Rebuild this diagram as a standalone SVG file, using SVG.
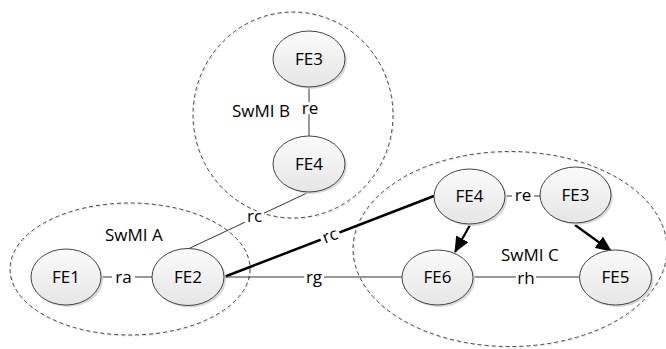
<svg xmlns="http://www.w3.org/2000/svg" width="666" height="349" viewBox="0 0 666 349">
<defs>
<linearGradient id="g" x1="0" y1="0" x2="0" y2="1">
<stop offset="0" stop-color="#fbfbfb"/>
<stop offset="1" stop-color="#e6e6e6"/>
</linearGradient>
<marker id="ah" viewBox="0 0 16 14" refX="15" refY="7" markerWidth="16" markerHeight="14" orient="auto" markerUnits="userSpaceOnUse">
<path d="M0,0 L16,7 L0,14 Z" fill="#000"/>
</marker>
</defs>
<style>
.grp{fill:none;stroke:#444;stroke-width:1;stroke-dasharray:4,3}
.grps{fill:none;stroke:#ddd;stroke-width:1;stroke-dasharray:4,3}
.nd{fill:url(#g);stroke:#444;stroke-width:1}
.sh{fill:#d8d8d8}
.t{font-family:"Open Sans","DejaVu Sans",sans-serif;font-size:17px;fill:#000;text-anchor:middle;dominant-baseline:central}
.gl{font-family:"Open Sans","DejaVu Sans",sans-serif;font-size:17px;fill:#000}
.ln{stroke:#333;stroke-width:1;fill:none}
.th{stroke:#000;stroke-width:2.5;fill:none}
.ar{stroke:#000;stroke-width:2.2;fill:none}
.bg{fill:#fff}
</style>
<rect width="666" height="349" fill="#fff"/>
<g id="swmi-b">
<ellipse class="grps" cx="294" cy="116" rx="100" ry="103"/>
<ellipse class="grp" cx="293" cy="115" rx="100" ry="103"/>
<text class="gl" x="232" y="117">SwMI B</text>
</g>
<g id="swmi-a">
<ellipse class="grps" cx="131" cy="270" rx="120" ry="66"/>
<ellipse class="grp" cx="130" cy="269" rx="120" ry="66"/>
<text class="gl" x="105" y="241">SwMI A</text>
</g>
<g id="swmi-c">
<ellipse class="grps" cx="511" cy="250" rx="157" ry="97.5"/>
<ellipse class="grp" cx="510" cy="249" rx="157" ry="97.5"/>
<text class="gl" x="501" y="261">SwMI C</text>
</g>
<g id="connectors">
<line class="ln" x1="309" y1="87" x2="309" y2="136"/>
<rect class="bg" x="300" y="102" width="20" height="12"/>
<text class="t" x="310" y="107">re</text>
<line class="ln" x1="101" y1="277" x2="152" y2="277"/>
<rect class="bg" x="112" y="271" width="23" height="12"/>
<text class="t" x="123.5" y="276">ra</text>
<line class="ln" x1="188" y1="249" x2="307" y2="193"/>
<rect class="bg" x="245" y="211" width="19" height="12"/>
<text class="t" x="254.5" y="215">rc</text>
<line class="th" x1="224" y1="277" x2="434" y2="196"/>
<g transform="translate(330,236) rotate(-21)">
<rect class="bg" x="-10" y="-6" width="20" height="12"/>
<text class="t" x="0" y="-1">rc</text>
</g>
<line class="ln" x1="224" y1="277" x2="402" y2="277"/>
<rect class="bg" x="304" y="271" width="20" height="12"/>
<text class="t" x="314" y="276">rg</text>
<line class="ln" x1="505" y1="196" x2="540" y2="196"/>
<rect class="bg" x="512" y="190" width="22" height="12"/>
<text class="t" x="523" y="194">re</text>
<line class="ln" x1="473" y1="277" x2="579" y2="277"/>
<rect class="bg" x="516" y="272" width="20" height="10"/>
<text class="t" x="526" y="277">rh</text>
<line class="ar" x1="470" y1="225" x2="455" y2="252" marker-end="url(#ah)"/>
<line class="ar" x1="575" y1="225" x2="611" y2="251" marker-end="url(#ah)"/>
</g>
<g id="fe3-b">
<ellipse class="sh" cx="311" cy="61" rx="36" ry="28"/>
<ellipse class="nd" cx="309" cy="59" rx="36" ry="28"/>
<text class="t" x="309" y="58">FE3</text>
</g>
<g id="fe4-b">
<ellipse class="sh" cx="311" cy="166" rx="36" ry="28"/>
<ellipse class="nd" cx="309" cy="164" rx="36" ry="28"/>
<text class="t" x="309" y="163">FE4</text>
</g>
<g id="fe1">
<ellipse class="sh" cx="68" cy="279" rx="35" ry="28"/>
<ellipse class="nd" cx="66" cy="277" rx="35" ry="28"/>
<text class="t" x="66" y="276">FE1</text>
</g>
<g id="fe2">
<ellipse class="sh" cx="190" cy="279" rx="36" ry="28.5"/>
<ellipse class="nd" cx="188" cy="277" rx="36" ry="28.5"/>
<text class="t" x="188" y="276">FE2</text>
</g>
<g id="fe4-c">
<ellipse class="sh" cx="471.5" cy="198.5" rx="35.5" ry="27.5"/>
<ellipse class="nd" cx="469.5" cy="196.5" rx="35.5" ry="27.5"/>
<text class="t" x="469.5" y="195">FE4</text>
</g>
<g id="fe3-c">
<ellipse class="sh" cx="577.5" cy="197" rx="35.5" ry="28"/>
<ellipse class="nd" cx="575.5" cy="195" rx="35.5" ry="28"/>
<text class="t" x="575.5" y="194">FE3</text>
</g>
<g id="fe6">
<ellipse class="sh" cx="439.5" cy="279.5" rx="35.5" ry="27.5"/>
<ellipse class="nd" cx="437.5" cy="277.5" rx="35.5" ry="27.5"/>
<text class="t" x="437.5" y="276">FE6</text>
</g>
<g id="fe5">
<ellipse class="sh" cx="617.5" cy="279.5" rx="36" ry="27.5"/>
<ellipse class="nd" cx="615.5" cy="277.5" rx="36" ry="27.5"/>
<text class="t" x="615.5" y="276">FE5</text>
</g>
</svg>
